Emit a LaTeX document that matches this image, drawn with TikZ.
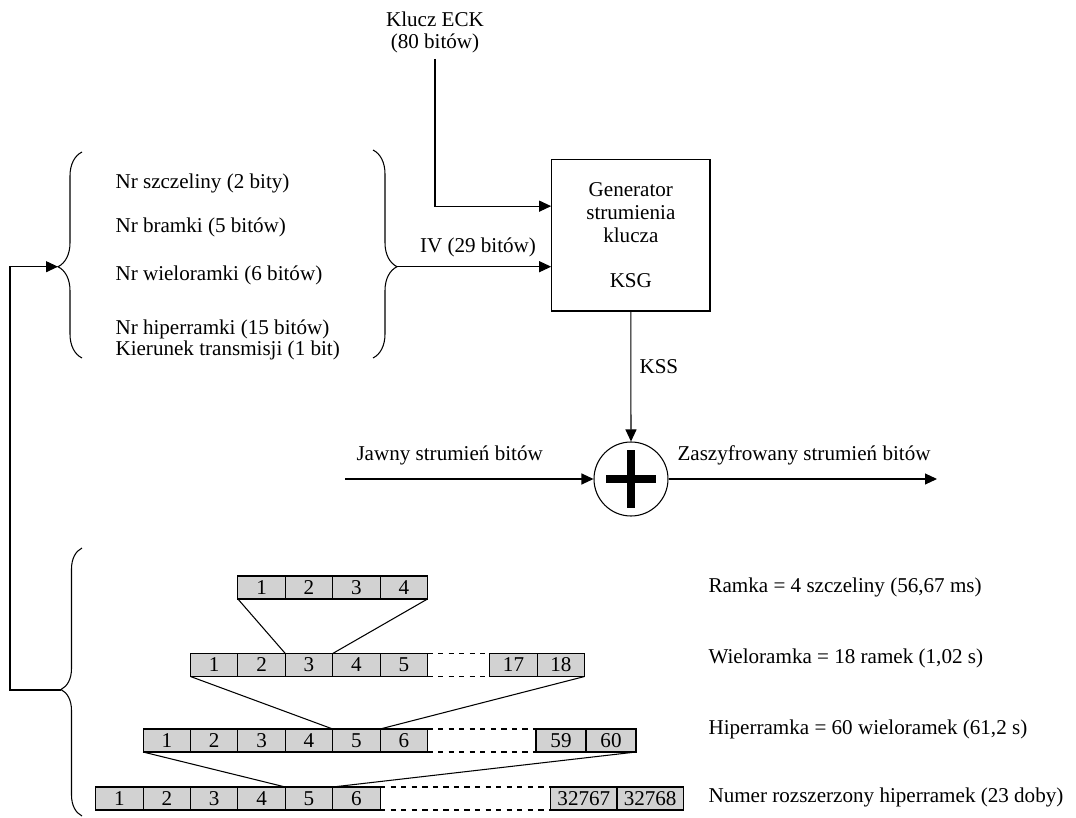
\documentclass[tikz,border=0pt]{standalone}
\usepackage{fontspec}
\setmainfont{Liberation Serif}
\usetikzlibrary{arrows.meta,decorations.pathreplacing,positioning}

\begin{document}
\begin{tikzpicture}[x=0.2mm, y=-0.2mm, line width=0.6pt,
  font=\fontsize{12}{13}\selectfont,
  arr/.style={-{Triangle[length=2.4mm,width=2.2mm]}},
  txt/.style={inner sep=0pt, anchor=west},
  cell/.style={draw, fill=gray!35, minimum width=9.48mm, minimum height=4.6mm, inner sep=0pt, outer sep=0pt},
  brc/.style={decorate, decoration={brace, amplitude=#1}}]
\useasboundingbox (0,0) rectangle (1076,818);

% generator i XOR
\node [align=center, font=\fontsize{12}{12.5}\selectfont] (eck) at (435,32) {Klucz ECK\\(80 bitów)};
\node [draw, minimum width=31.66mm, minimum height=30.34mm, align=center, inner sep=0pt] (gen) at (630.85,235.15) {Generator\\strumienia\\klucza\\[13pt]KSG};
\node [draw, circle, minimum size=14.8mm, inner sep=0pt] (xor) at (631,479) {};
\draw [line width=1.6mm] (xor.center) ++(0,-29) -- ++(0,58);
\draw [line width=1.6mm] (xor.center) ++(-25,0) -- ++(50,0);

\draw [arr] (eck.south) |- (gen.160);
\draw [arr] (gen.south) -- (xor.north);
\node [txt] (kss) at (639,367) {KSS};

\coordinate (jin) at (345,479);
\coordinate (zout) at (937,479);
\draw [arr] (jin) -- (xor.west);
\draw [arr] (xor.east) -- (zout);
\node [txt] (jawny) at (356,455) {Jawny strumień bitów};
\node [txt] (zasz) at (677,455) {Zaszyfrowany strumień bitów};

% pola wektora IV
\node [txt] (nrs) at (115,183) {Nr szczeliny (2 bity)};
\node [txt] (nrb) at (115,227) {Nr bramki (5 bitów)};
\node [txt] (nrw) at (115,275) {Nr wieloramki (6 bitów)};
\node [txt] (nrh) at (115,329) {Nr hiperramki (15 bitów)};
\node [txt] (kier) at (115,350) {Kierunek transmisji (1 bit)};

\draw [brc=4.8mm, decoration={aspect=0.443}] (82,358) -- (82,152);
\draw [brc=4.8mm, decoration={aspect=0.561}] (373,150) -- (373,358);
\draw [brc=4.2mm, decoration={aspect=0.472}] (82,816) -- (82,548);
\coordinate (uptip) at (58,266.7);
\coordinate (ivtip) at (397,266.7);
\coordinate (lotip) at (61,690);
\coordinate (fb) at (10,690);

\draw [arr] (ivtip) -- (ivtip -| gen.west);
\node (iv) at (478,247) {IV (29 bitów)};
\draw [arr] (lotip) -- (fb) |- (uptip);

% ramki
\foreach \i in {1,...,4}
  \node [cell] (ra\i) at ({237.9+(\i-0.5)*47.4},587.5) {\i};
\foreach \i in {1,...,5}
  \node [cell] (wi\i) at ({190.5+(\i-0.5)*47.4},665) {\i};
\node [cell] (wi18) at (560.9,665) {18};
\node [cell, left=0pt of wi18] (wi17) {17};
\foreach \i in {1,...,6}
  \node [cell] (hi\i) at ({143.1+(\i-0.5)*47.4},740.5) {\i};
\node [cell, minimum width=10mm] (hi60) at (611,740.5) {60};
\node [cell, minimum width=10mm, left=0pt of hi60] (hi59) {59};
\foreach \i in {1,...,6}
  \node [cell] (nu\i) at ({95.7+(\i-0.5)*47.4},798.5) {\i};
\node [cell, minimum width=13.26mm] (nu32768) at (650.15,798.5) {32768};
\node [cell, minimum width=13.26mm, left=0pt of nu32768] (nu32767) {32767};

\draw [dashed] (wi5.north east) -- (wi17.north west) (wi5.south east) -- (wi17.south west);
\draw [dashed] (hi6.north east) -- (hi59.north west) (hi6.south east) -- (hi59.south west);
\draw [dashed] (nu6.north east) -- (nu32767.north west) (nu6.south east) -- (nu32767.south west);

\draw (ra1.south west) -- (wi3.north west);
\draw (ra4.south east) -- (wi3.north east);
\draw (wi1.south west) -- (hi5.north west);
\draw (wi18.south east) -- (hi5.north east);
\draw (hi1.south west) -- (nu5.north west);
\draw (hi60.south east) -- (nu5.north east);

\node [txt] (ramka) at (708,587) {Ramka = 4 szczeliny (56,67 ms)};
\node [txt] (wielo) at (708,658) {Wieloramka = 18 ramek (1,02 s)};
\node [txt] (hiper) at (708,729) {Hiperramka = 60 wieloramek (61,2 s)};
\node [txt] (numer) at (708,797) {Numer rozszerzony hiperramek (23 doby)};
\end{tikzpicture}
\end{document}
